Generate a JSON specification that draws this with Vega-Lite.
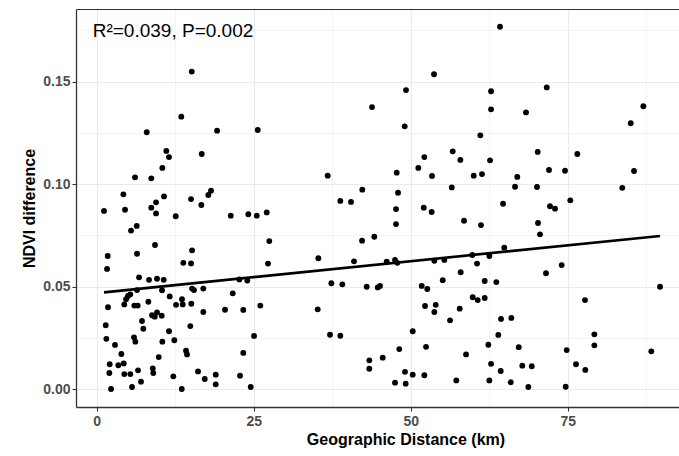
{
  "$schema": "https://vega.github.io/schema/vega-lite/v6.json",
  "width": 603,
  "height": 398,
  "autosize": {"type": "none"},
  "padding": {"left": 76, "top": 9, "right": 0, "bottom": 49},
  "background": "white",
  "config": {
    "font": "Liberation Sans",
    "view": {"stroke": null}
  },
  "datasets": {
    "points": [
      {"distance":15.13,"ndvi":0.1549},{"distance":13.47,"ndvi":0.1329},{"distance":7.96,"ndvi":0.1253},{"distance":19.16,"ndvi":0.1261},{"distance":11.08,"ndvi":0.1162},{"distance":11.51,"ndvi":0.1132},{"distance":16.72,"ndvi":0.1147},{"distance":10.45,"ndvi":0.1079},{"distance":6.10,"ndvi":0.1033},{"distance":8.69,"ndvi":0.1028},{"distance":4.24,"ndvi":0.0950},{"distance":10.72,"ndvi":0.0940},{"distance":18.20,"ndvi":0.0968},{"distance":17.77,"ndvi":0.0947},{"distance":15.02,"ndvi":0.0927},{"distance":9.44,"ndvi":0.0911},{"distance":8.69,"ndvi":0.0885},{"distance":16.66,"ndvi":0.0898},{"distance":1.16,"ndvi":0.0869},{"distance":4.51,"ndvi":0.0875},{"distance":9.44,"ndvi":0.0857},{"distance":12.58,"ndvi":0.0843},{"distance":21.34,"ndvi":0.0846},
      {"distance":5.46,"ndvi":0.0773},{"distance":6.37,"ndvi":0.0796},{"distance":9.28,"ndvi":0.0703},{"distance":1.75,"ndvi":0.0649},{"distance":6.42,"ndvi":0.0660},{"distance":15.18,"ndvi":0.0677},{"distance":13.79,"ndvi":0.0616},{"distance":15.02,"ndvi":0.0613},{"distance":1.64,"ndvi":0.0586},{"distance":6.74,"ndvi":0.0545},{"distance":8.33,"ndvi":0.0533},{"distance":9.60,"ndvi":0.0538},{"distance":10.67,"ndvi":0.0533},{"distance":6.42,"ndvi":0.0483},{"distance":10.40,"ndvi":0.0482},{"distance":15.18,"ndvi":0.0490},{"distance":15.49,"ndvi":0.0483},{"distance":16.97,"ndvi":0.0490},{"distance":4.67,"ndvi":0.0438},{"distance":4.98,"ndvi":0.0454},{"distance":5.35,"ndvi":0.0462},{"distance":1.80,"ndvi":0.0399},{"distance":4.39,"ndvi":0.0413},{"distance":5.99,"ndvi":0.0407},{"distance":6.53,"ndvi":0.0407},{"distance":8.22,"ndvi":0.0426},{"distance":11.62,"ndvi":0.0452},{"distance":12.63,"ndvi":0.0411},{"distance":13.58,"ndvi":0.0438},{"distance":13.69,"ndvi":0.0413},{"distance":15.06,"ndvi":0.0416},{"distance":21.66,"ndvi":0.0467},{"distance":20.43,"ndvi":0.0387},{"distance":16.97,"ndvi":0.0376},{"distance":8.81,"ndvi":0.0360},{"distance":9.24,"ndvi":0.0353},{"distance":9.60,"ndvi":0.0374},{"distance":10.35,"ndvi":0.0358},{"distance":7.21,"ndvi":0.0332},{"distance":1.43,"ndvi":0.0311},{"distance":7.42,"ndvi":0.0294},{"distance":14.90,"ndvi":0.0307},{"distance":11.51,"ndvi":0.0282},{"distance":1.53,"ndvi":0.0245},{"distance":2.91,"ndvi":0.0215},{"distance":5.94,"ndvi":0.0252},{"distance":6.15,"ndvi":0.0231},{"distance":10.45,"ndvi":0.0231},{"distance":12.36,"ndvi":0.0238},{"distance":3.92,"ndvi":0.0171},{"distance":9.87,"ndvi":0.0156},{"distance":14.22,"ndvi":0.0187},{"distance":14.38,"ndvi":0.0169},{"distance":2.07,"ndvi":0.0121},{"distance":3.44,"ndvi":0.0116},{"distance":4.30,"ndvi":0.0125},{"distance":2.01,"ndvi":0.0078},{"distance":4.39,"ndvi":0.0073},{"distance":5.35,"ndvi":0.0073},{"distance":6.58,"ndvi":0.0091},{"distance":8.92,"ndvi":0.0101},{"distance":9.01,"ndvi":0.0078},{"distance":12.20,"ndvi":0.0062},{"distance":16.13,"ndvi":0.0086},{"distance":17.20,"ndvi":0.0049},{"distance":18.95,"ndvi":0.0070},{"distance":18.95,"ndvi":0.0023},{"distance":2.28,"ndvi":0.0000},{"distance":5.62,"ndvi":0.0010},{"distance":7.05,"ndvi":0.0036},{"distance":13.54,"ndvi":0.0000},
      {"distance":25.64,"ndvi":0.1264},{"distance":43.84,"ndvi":0.1376},{"distance":36.78,"ndvi":0.1041},{"distance":42.29,"ndvi":0.0973},{"distance":38.79,"ndvi":0.0918},{"distance":40.49,"ndvi":0.0913},{"distance":24.14,"ndvi":0.0853},{"distance":25.48,"ndvi":0.0846},{"distance":27.07,"ndvi":0.0862},
      {"distance":27.48,"ndvi":0.0722},{"distance":27.28,"ndvi":0.0612},{"distance":35.29,"ndvi":0.0638},{"distance":42.25,"ndvi":0.0724},{"distance":44.20,"ndvi":0.0743},{"distance":40.97,"ndvi":0.0623},{"distance":22.71,"ndvi":0.0535},{"distance":23.98,"ndvi":0.0529},{"distance":37.36,"ndvi":0.0516},{"distance":39.11,"ndvi":0.0511},{"distance":42.99,"ndvi":0.0499},{"distance":44.75,"ndvi":0.0496},{"distance":45.11,"ndvi":0.0503},{"distance":23.34,"ndvi":0.0386},{"distance":26.05,"ndvi":0.0407},{"distance":35.19,"ndvi":0.0389},{"distance":25.05,"ndvi":0.0259},{"distance":37.15,"ndvi":0.0265},{"distance":38.79,"ndvi":0.0260},{"distance":23.34,"ndvi":0.0176},{"distance":22.82,"ndvi":0.0065},{"distance":24.52,"ndvi":0.0010},{"distance":43.41,"ndvi":0.0140},{"distance":43.41,"ndvi":0.0099},{"distance":45.54,"ndvi":0.0153},
      {"distance":64.22,"ndvi":0.1768},{"distance":53.71,"ndvi":0.1536},{"distance":49.25,"ndvi":0.1459},{"distance":62.79,"ndvi":0.1453},{"distance":62.79,"ndvi":0.1365},{"distance":68.36,"ndvi":0.1350},{"distance":49.04,"ndvi":0.1282},{"distance":61.08,"ndvi":0.1238},{"distance":56.69,"ndvi":0.1160},{"distance":52.17,"ndvi":0.1132},{"distance":57.90,"ndvi":0.1118},{"distance":62.63,"ndvi":0.1116},{"distance":51.21,"ndvi":0.1079},{"distance":47.77,"ndvi":0.1056},{"distance":53.39,"ndvi":0.1040},{"distance":60.03,"ndvi":0.1041},{"distance":61.35,"ndvi":0.1049},{"distance":66.97,"ndvi":0.1035},{"distance":66.61,"ndvi":0.0987},{"distance":56.53,"ndvi":0.0984},{"distance":47.98,"ndvi":0.0958},{"distance":47.66,"ndvi":0.0878},{"distance":52.07,"ndvi":0.0885},{"distance":53.34,"ndvi":0.0864},{"distance":64.70,"ndvi":0.0904},
      {"distance":47.66,"ndvi":0.0805},{"distance":58.49,"ndvi":0.0821},{"distance":61.19,"ndvi":0.0800},{"distance":46.18,"ndvi":0.0621},{"distance":47.50,"ndvi":0.0630},{"distance":47.87,"ndvi":0.0616},{"distance":53.76,"ndvi":0.0626},{"distance":55.35,"ndvi":0.0630},{"distance":59.81,"ndvi":0.0654},{"distance":62.52,"ndvi":0.0649},{"distance":64.90,"ndvi":0.0690},{"distance":60.56,"ndvi":0.0612},{"distance":57.96,"ndvi":0.0570},{"distance":55.10,"ndvi":0.0531},{"distance":61.78,"ndvi":0.0527},{"distance":63.63,"ndvi":0.0522},{"distance":51.75,"ndvi":0.0503},{"distance":52.64,"ndvi":0.0488},{"distance":59.87,"ndvi":0.0448},{"distance":60.67,"ndvi":0.0434},{"distance":61.78,"ndvi":0.0444},{"distance":52.28,"ndvi":0.0405},{"distance":53.98,"ndvi":0.0411},{"distance":53.76,"ndvi":0.0376},{"distance":57.80,"ndvi":0.0392},{"distance":56.26,"ndvi":0.0335},{"distance":64.38,"ndvi":0.0342},{"distance":66.02,"ndvi":0.0347},{"distance":50.32,"ndvi":0.0282},{"distance":63.95,"ndvi":0.0264},{"distance":62.36,"ndvi":0.0216},{"distance":67.20,"ndvi":0.0204},{"distance":48.18,"ndvi":0.0195},{"distance":52.44,"ndvi":0.0206},{"distance":58.81,"ndvi":0.0169},{"distance":62.79,"ndvi":0.0123},{"distance":67.77,"ndvi":0.0114},{"distance":69.27,"ndvi":0.0111},{"distance":49.09,"ndvi":0.0084},{"distance":50.32,"ndvi":0.0070},{"distance":52.17,"ndvi":0.0067},{"distance":64.33,"ndvi":0.0088},{"distance":47.50,"ndvi":0.0031},{"distance":49.20,"ndvi":0.0026},{"distance":57.26,"ndvi":0.0042},{"distance":62.52,"ndvi":0.0042},{"distance":65.92,"ndvi":0.0033},{"distance":68.73,"ndvi":0.0010},
      {"distance":71.66,"ndvi":0.1472},{"distance":87.04,"ndvi":0.1380},{"distance":85.03,"ndvi":0.1297},{"distance":70.22,"ndvi":0.1157},{"distance":76.53,"ndvi":0.1147},{"distance":72.02,"ndvi":0.1069},{"distance":74.57,"ndvi":0.1065},{"distance":85.56,"ndvi":0.1064},{"distance":70.11,"ndvi":0.0986},{"distance":83.69,"ndvi":0.0982},{"distance":75.41,"ndvi":0.0921},{"distance":72.18,"ndvi":0.0892},{"distance":72.98,"ndvi":0.0880},
      {"distance":70.27,"ndvi":0.0810},{"distance":70.59,"ndvi":0.0755},{"distance":74.04,"ndvi":0.0605},{"distance":71.54,"ndvi":0.0565},{"distance":89.70,"ndvi":0.0499},{"distance":77.75,"ndvi":0.0434},{"distance":79.24,"ndvi":0.0267},{"distance":79.24,"ndvi":0.0213},{"distance":74.84,"ndvi":0.0190},{"distance":88.31,"ndvi":0.0184},{"distance":76.32,"ndvi":0.0121},{"distance":77.80,"ndvi":0.0093},{"distance":74.68,"ndvi":0.0011}
    ],
    "note": [{"label": "R²=0.039, P=0.002"}]
  },
  "layer": [
    {
      "data": {"name": "points"},
      "mark": {"type": "point", "filled": true, "color": "black", "opacity": 1, "size": 34, "shape": "circle"},
      "encoding": {
        "x": {
          "field": "distance", "type": "quantitative",
          "scale": {"domain": [-3.3, 92.72], "nice": false, "zero": false},
          "axis": {
            "title": "Geographic Distance (km)",
            "titleX": 329.5,
            "values": [0, 12.5, 25, 37.5, 50, 62.5, 75, 87.5],
            "labelExpr": "datum.value % 25 === 0 ? datum.label : ''",
            "grid": true,
            "gridColor": "#EBEBEB",
            "gridWidth": {"condition": {"test": "datum.value % 25 !== 0", "value": 0.6}, "value": 1.2},
            "tickOpacity": {"condition": {"test": "datum.value % 25 !== 0", "value": 0}, "value": 1},
            "tickSize": 4, "tickColor": "#333333", "tickWidth": 1.1,
            "domainColor": "#333333", "domainWidth": 1.3,
            "labelColor": "#4D4D4D", "labelFontSize": 14, "labelFontWeight": "bold", "labelPadding": 3,
            "titleColor": "black", "titleFontSize": 16, "titleFontWeight": "bold", "titlePadding": 3
          }
        },
        "y": {
          "field": "ndvi", "type": "quantitative",
          "scale": {"domain": [-0.00878, 0.18546], "nice": false, "zero": false},
          "axis": {
            "title": "NDVI difference",
            "values": [0, 0.025, 0.05, 0.075, 0.1, 0.125, 0.15, 0.175, 0.18546],
            "format": ".2f",
            "labelExpr": "abs(datum.value * 20 - round(datum.value * 20)) < 0.001 ? datum.label : ''",
            "grid": true,
            "gridColor": {"condition": {"test": "datum.value > 0.18", "value": "#333333"}, "value": "#EBEBEB"},
            "gridWidth": {"condition": {"test": "abs(datum.value * 20 - round(datum.value * 20)) >= 0.001 && datum.value < 0.18", "value": 0.6}, "value": 1.2},
            "tickOpacity": {"condition": {"test": "abs(datum.value * 20 - round(datum.value * 20)) >= 0.001", "value": 0}, "value": 1},
            "tickSize": 4, "tickColor": "#333333", "tickWidth": 1.1,
            "domainColor": "#333333", "domainWidth": 1.3,
            "labelColor": "#4D4D4D", "labelFontSize": 14, "labelFontWeight": "bold", "labelPadding": 2,
            "titleColor": "black", "titleFontSize": 16, "titleFontWeight": "bold", "titlePadding": 5
          }
        }
      }
    },
    {
      "data": {"name": "points"},
      "transform": [{"regression": "ndvi", "on": "distance"}],
      "mark": {"type": "line", "color": "black", "strokeWidth": 2.6},
      "encoding": {
        "x": {"field": "distance", "type": "quantitative"},
        "y": {"field": "ndvi", "type": "quantitative"}
      }
    },
    {
      "data": {"name": "note"},
      "mark": {"type": "text", "align": "left", "baseline": "middle", "fontSize": 19, "color": "black", "font": "Liberation Sans"},
      "encoding": {
        "x": {"datum": -0.64, "type": "quantitative"},
        "y": {"datum": 0.1747, "type": "quantitative"},
        "text": {"field": "label"}
      }
    }
  ]
}
